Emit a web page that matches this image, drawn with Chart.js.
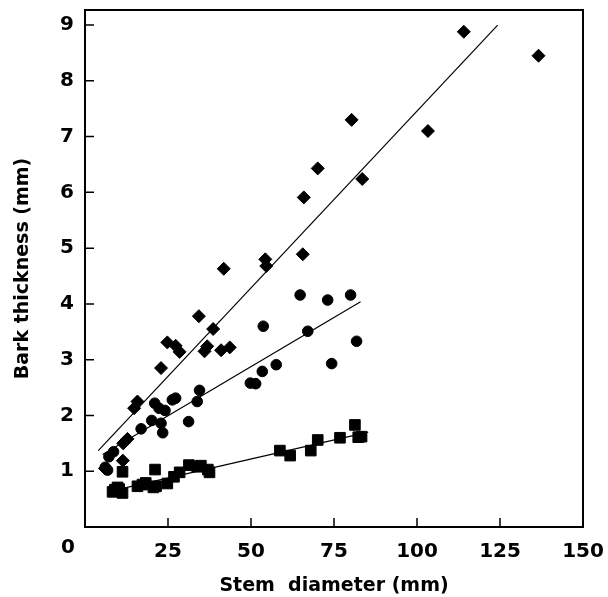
<!DOCTYPE html>
<html>
<head>
<meta charset="utf-8">
<script src="https://cdn.jsdelivr.net/npm/chart.js@4.4.1/dist/chart.umd.min.js"></script>
<style>
  html, body { margin: 0; padding: 0; background: #fff; }
  #wrap { width: 608px; height: 597px; }
</style>
</head>
<body>
<div id="wrap"><canvas id="barkChart"></canvas></div>
<script>
// diamonds (upper group)
var diamondX = [6.0, 11.4, 11.5, 12.8, 14.8, 15.8, 22.9, 24.8, 27.3, 28.5, 34.3, 36.0, 36.8, 38.6, 41.0, 43.6, 41.8, 54.3, 54.6, 65.6, 65.9, 70.1, 80.3, 83.5, 103.3, 114.1, 136.6];
var diamondY = [1.05, 1.19, 1.50, 1.58, 2.13, 2.25, 2.85, 3.31, 3.25, 3.14, 3.78, 3.15, 3.24, 3.55, 3.17, 3.22, 4.63, 4.80, 4.68, 4.89, 5.91, 6.43, 7.30, 6.24, 7.10, 8.88, 8.45];
// circles (middle group)
var circleX = [6.1, 6.8, 7.2, 8.6, 16.9, 20.1, 21.0, 22.3, 22.9, 23.4, 24.1, 26.3, 27.3, 31.2, 33.8, 34.5, 49.8, 51.4, 53.4, 53.7, 57.6, 64.8, 67.1, 73.1, 74.3, 80.0, 81.8];
var circleY = [1.07, 1.02, 1.26, 1.35, 1.76, 1.91, 2.22, 2.13, 1.86, 1.69, 2.09, 2.28, 2.31, 1.89, 2.25, 2.45, 2.58, 2.57, 2.79, 3.60, 2.91, 4.16, 3.51, 4.07, 2.93, 4.16, 3.33];
// squares (lower group)
var squareX = [8.3, 9.0, 9.8, 10.3, 11.3, 11.3, 15.8, 17.3, 18.3, 20.6, 21.1, 21.4, 24.8, 26.8, 28.5, 31.3, 33.8, 34.9, 37.0, 37.5, 58.7, 61.8, 68.0, 70.1, 76.8, 81.3, 82.3, 83.3];
var squareY = [0.63, 0.67, 0.71, 0.68, 0.61, 0.99, 0.73, 0.76, 0.79, 0.71, 1.03, 0.73, 0.78, 0.90, 0.98, 1.11, 1.08, 1.10, 1.03, 0.98, 1.37, 1.28, 1.37, 1.56, 1.60, 1.83, 1.61, 1.62];
// regression lines (end points)
var diamondFitX = [4.0, 124.3];
var diamondFitY = [1.37, 9.0];
var circleFitX = [5.3, 83.0];
var circleFitY = [1.30, 4.04];
var squareFitX = [6.8, 85.3];
var squareFitY = [0.63, 1.70];

var xTicks = [25, 50, 75, 100, 125, 150];
var yTicks = [1, 2, 3, 4, 5, 6, 7, 8, 9];

function pts(xs, ys) {
    return xs.map(function (v, i) { return { x: v, y: ys[i] }; });
}

var FONT = "'DejaVu Sans', 'Liberation Sans', Arial, sans-serif";

// box frame, inward tick marks and the lone "0" in the corner
var frame = {
    id: 'frame',
    afterDraw: function (chart) {
        var ctx = chart.ctx, a = chart.chartArea;
        var sx = chart.scales.x, sy = chart.scales.y;
        ctx.save();
        ctx.strokeStyle = '#000';
        ctx.lineWidth = 2;
        ctx.strokeRect(a.left, a.top, a.right - a.left, a.bottom - a.top);
        ctx.lineWidth = 1.5;
        ctx.beginPath();
        xTicks.forEach(function (v) {
            if (v >= sx.max) return;
            var px = sx.getPixelForValue(v);
            ctx.moveTo(px, a.bottom);
            ctx.lineTo(px, a.bottom - 9);
        });
        yTicks.forEach(function (v) {
            var py = sy.getPixelForValue(v);
            ctx.moveTo(a.left, py);
            ctx.lineTo(a.left + 9, py);
        });
        ctx.stroke();
        ctx.fillStyle = '#000';
        ctx.font = 'bold 20px ' + FONT;
        ctx.textAlign = 'center';
        ctx.textBaseline = 'middle';
        ctx.fillText('0', a.left - 17, a.bottom + 21);
        ctx.restore();
    }
};

new Chart(document.getElementById('barkChart').getContext('2d'), {
    type: 'scatter',
    data: {
        datasets: [
            { data: pts(diamondX, diamondY), pointStyle: 'rectRot', pointRadius: 6.5, borderWidth: 1, backgroundColor: '#000', borderColor: '#000' },
            { data: pts(circleX, circleY), pointStyle: 'circle', pointRadius: 5.3, borderWidth: 1, backgroundColor: '#000', borderColor: '#000' },
            { data: pts(squareX, squareY), pointStyle: 'rect', pointRadius: 7.5, borderWidth: 1, backgroundColor: '#000', borderColor: '#000' },
            { type: 'line', data: pts(diamondFitX, diamondFitY), showLine: true, pointRadius: 0, borderWidth: 1.2, borderColor: '#000', fill: false },
            { type: 'line', data: pts(circleFitX, circleFitY), showLine: true, pointRadius: 0, borderWidth: 1.2, borderColor: '#000', fill: false },
            { type: 'line', data: pts(squareFitX, squareFitY), showLine: true, pointRadius: 0, borderWidth: 1.2, borderColor: '#000', fill: false }
        ]
    },
    options: {
        responsive: true, maintainAspectRatio: false, animation: false,
        layout: { padding: { top: 10, right: 25, left: 0, bottom: 0 } },
        plugins: { legend: { display: false }, tooltip: { enabled: false } },
        scales: {
            x: {
                type: 'linear', min: 0, max: 150,
                afterFit: function (s) { s.height = 70; s.paddingLeft = 0; s.paddingRight = 0; },
                afterBuildTicks: function (s) { s.ticks = xTicks.map(function (v) { return { value: v }; }); },
                grid: { display: false, drawTicks: false },
                border: { display: false },
                ticks: { color: '#000', padding: 13, font: { family: FONT, size: 20, weight: 'bold' }, maxRotation: 0 },
                title: { display: true, text: 'Stem  diameter (mm)', color: '#000', padding: { top: 0, bottom: 0 }, font: { family: FONT, size: 19, weight: 'bold' } }
            },
            y: {
                type: 'linear', min: 0, max: 9.27,
                afterFit: function (s) { s.width = 85; s.paddingTop = 0; s.paddingBottom = 0; },
                afterBuildTicks: function (s) { s.ticks = yTicks.map(function (v) { return { value: v }; }); },
                grid: { display: false, drawTicks: false },
                border: { display: false },
                ticks: { color: '#000', padding: 11, font: { family: FONT, size: 20, weight: 'bold' } },
                title: { display: true, text: 'Bark thickness (mm)', color: '#000', padding: { top: 12, bottom: 0 }, font: { family: FONT, size: 19, weight: 'bold' } }
            }
        }
    },
    plugins: [frame]
});
</script>
</body>
</html>
